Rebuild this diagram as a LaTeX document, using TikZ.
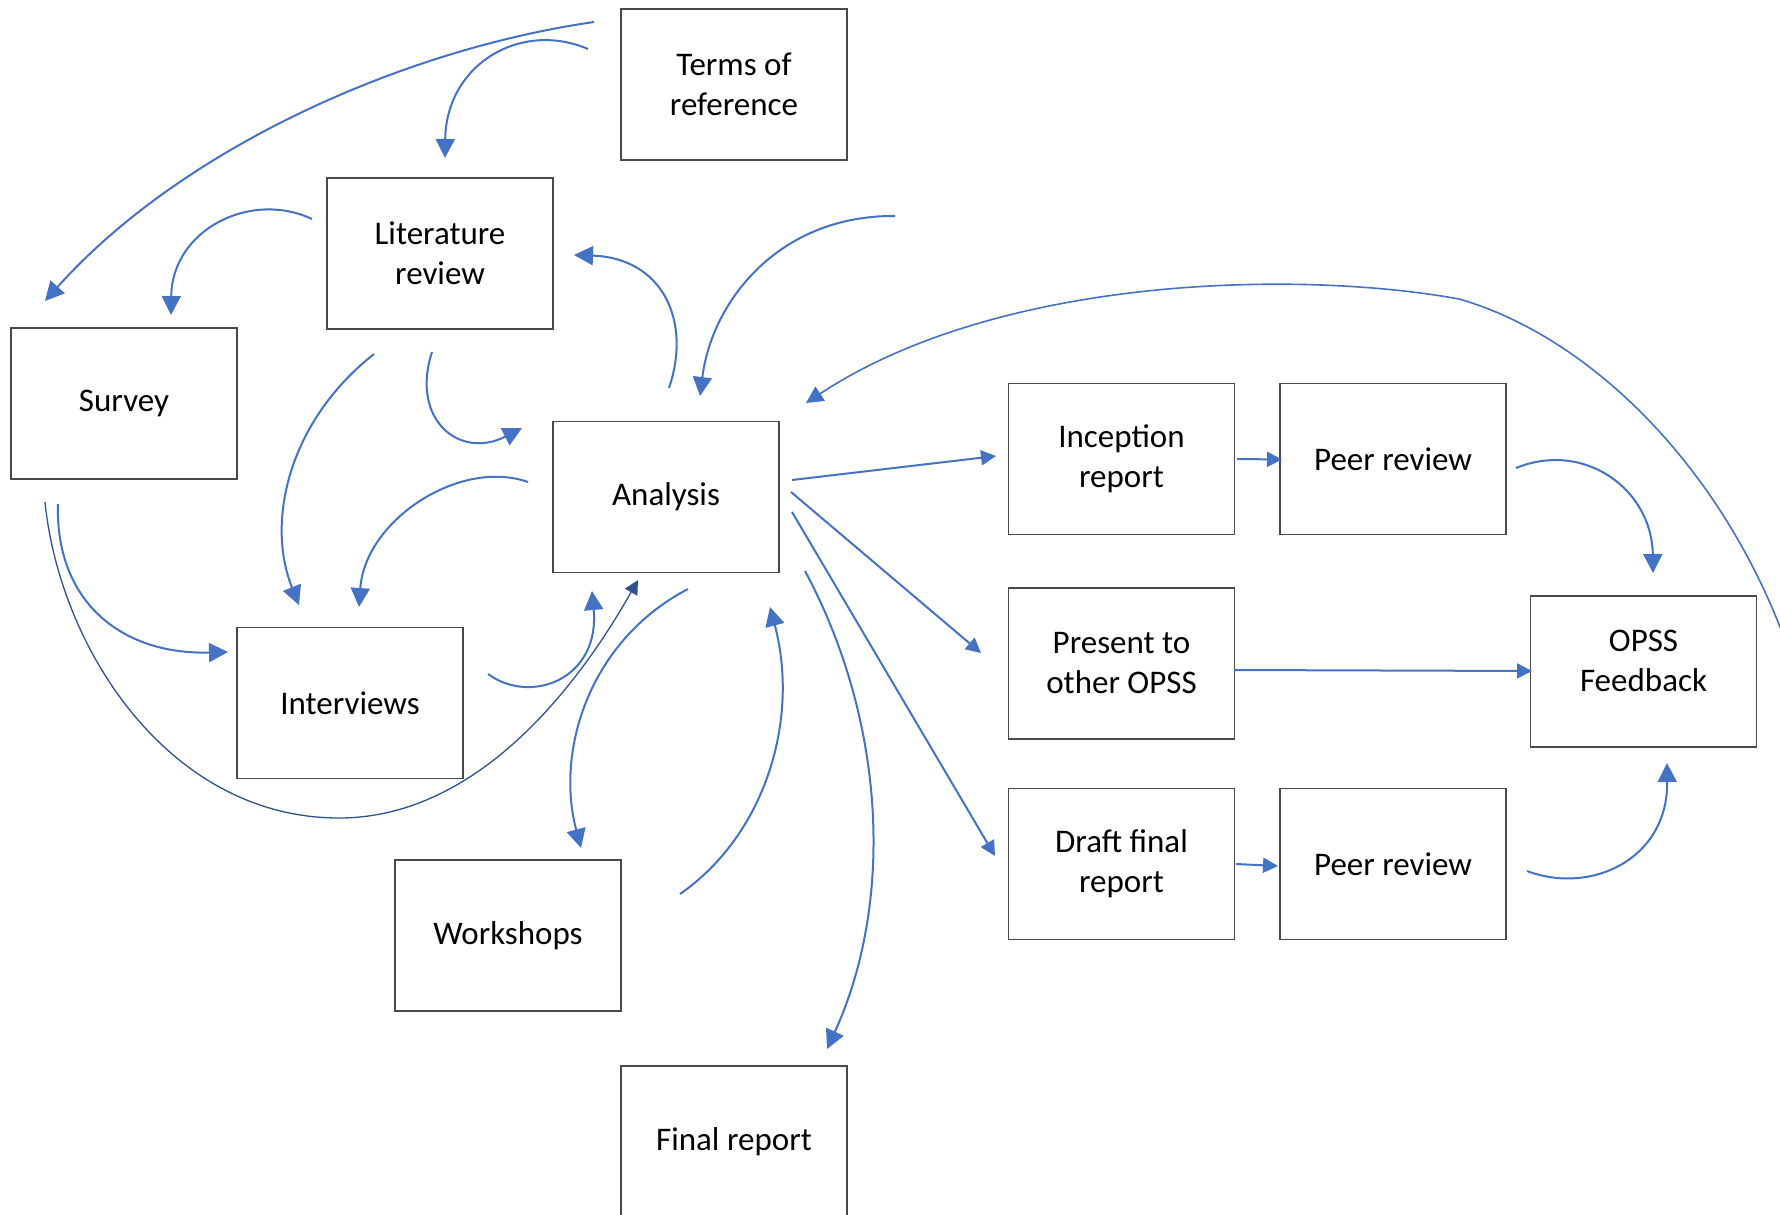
\documentclass[tikz,border=0pt]{standalone}
\usepackage{fontspec}
\setmainfont{Carlito}
\usetikzlibrary{arrows.meta}
\definecolor{flow}{HTML}{4472C4}
\definecolor{flowdark}{HTML}{2F528F}
\definecolor{edge}{HTML}{4A4A4A}

\begin{document}
\begin{tikzpicture}[x=0.5pt,y=-0.5pt,
  box/.style={draw=edge, line width=0.7pt, minimum width=113pt, minimum height=75.5pt,
    inner sep=0pt, outer sep=0pt, align=center, font=\fontsize{16.5}{20}\selectfont},
  link/.style={draw=flow, line width=1pt, -{Triangle[length=9.5pt,width=9.5pt]}},
  slink/.style={draw=flow, line width=1pt, -{Triangle[length=7.5pt,width=7.5pt]}},
  thinlink/.style={draw=flowdark, line width=0.65pt, -{Triangle[length=7pt,width=7pt]}},
  longlink/.style={draw=flow, line width=0.8pt, -{Triangle[length=8.5pt,width=8.5pt]}}]

\fill[white] (0,0) rectangle (1780,1214);
\useasboundingbox (0,0) rectangle (1780,1214);

% boxes
\node[box] (tor) at (734,84.5)    {Terms of\\reference};
\node[box] (lit) at (440,253.5)   {Literature\\review};
\node[box] (sur) at (124,403.5)   {Survey};
\node[box] (ana) at (666,497)     {Analysis};
\node[box] (int) at (350,703)     {Interviews};
\node[box] (wor) at (508,935.5)   {Workshops};
\node[box] (fin) at (734,1141.5)  {Final report};
\node[box] (inc) at (1121.5,459)  {Inception\\report};
\node[box] (pra) at (1393,459)    {Peer review};
\node[box] (pre) at (1121.5,663.5){Present to\\other OPSS};
\node[box] (dra) at (1121.5,864)  {Draft final\\report};
\node[box] (prb) at (1393,864)    {Peer review};
\node[box] (ops) at (1643.5,671.5)
  {\raisebox{4pt}[\height][\depth]{\begin{tabular}{@{}c@{}}OPSS\\Feedback\end{tabular}}};

% free ends and bends
\coordinate (feed) at (895,216);
\coordinate (low) at (339,818);
\coordinate (bend) at (1459,299);

% upper left loops
\draw[link] ([shift={(-140,-62.5)}]tor.center) .. controls (400,50) and (180,150) .. ([shift={(-79,-102.5)}]sur.center);
\draw[link] ([shift={(-146,-35.5)}]tor.center) .. controls (520,20) and (446,65) .. ([shift={(5,-95.5)}]lit.center);
\draw[link] ([shift={(-128,-34.5)}]lit.center) .. controls (250,190) and (172,230) .. ([shift={(47,-88.5)}]sur.center);
\draw[link] ([shift={(3,-109)}]ana.center) .. controls (692,320) and (662,258) .. ([shift={(134,1.5)}]lit.center);
\draw[link] (feed) .. controls (780,215) and (712,300) .. ([shift={(34,-101)}]ana.center);
\draw[link] ([shift={(-8,98.5)}]lit.center) .. controls (410,420) and (460,460) .. ([shift={(-144,-69)}]ana.center);
\draw[link] ([shift={(-66,100.5)}]lit.center) .. controls (290,420) and (265,520) .. ([shift={(-51,-98)}]int.center);
\draw[link] ([shift={(-138,-15)}]ana.center) .. controls (460,458) and (365,520) .. ([shift={(9,-96)}]int.center);
\draw[link] ([shift={(-66,100.5)}]sur.center) .. controls (55,600) and (120,655) .. ([shift={(-122,-51)}]int.center);
\draw[thinlink] ([shift={(-79,98.5)}]sur.center) .. controls (60,650) and (170,818) .. (low)
  .. controls (470,818) and (570,700) .. ([shift={(-28,83)}]ana.center);
\draw[link] ([shift={(138,-29)}]int.center) .. controls (530,705) and (600,680) .. ([shift={(-74,94)}]ana.center);

% lower loops
\draw[link] ([shift={(22,92)}]ana.center) .. controls (590,640) and (555,750) .. ([shift={(73,-87.5)}]wor.center);
\draw[link] ([shift={(172,-41.5)}]wor.center) .. controls (765,835) and (800,720) .. ([shift={(104,110)}]ana.center);
\draw[link] ([shift={(139,74)}]ana.center) .. controls (885,720) and (895,900) .. ([shift={(93,-92.5)}]fin.center);

% outputs of the analysis
\draw[slink] ([shift={(126,-17)}]ana.center) -- ([shift={(-125.5,-3)}]inc.center);
\draw[slink] ([shift={(125,-5)}]ana.center) -- ([shift={(-140.5,-10.5)}]pre.center);
\draw[slink] ([shift={(126,15)}]ana.center) -- ([shift={(-126.5,-8)}]dra.center);
\draw[slink] ([shift={(115.5,0)}]inc.center) -- ([shift={(-111,0.5)}]pra.center);
\draw[slink] ([shift={(114.5,0)}]dra.center) -- ([shift={(-115,2)}]prb.center);
\draw[slink] ([shift={(112.5,6.5)}]pre.center) -- ([shift={(-111.5,-0.5)}]ops.center);

% feedback
\draw[link] ([shift={(123,9)}]pra.center) .. controls (1585,440) and (1652,490) .. ([shift={(9.5,-98.5)}]ops.center);
\draw[link] ([shift={(134,7)}]prb.center) .. controls (1590,895) and (1668,860) .. ([shift={(23.5,91.5)}]ops.center);
\draw[longlink] ([shift={(141.5,-31.5)}]ops.center) .. controls (1718,460) and (1585,335) .. (bend)
  .. controls (1300,270) and (1000,275) .. ([shift={(140,-94)}]ana.center);
\end{tikzpicture}
\end{document}
